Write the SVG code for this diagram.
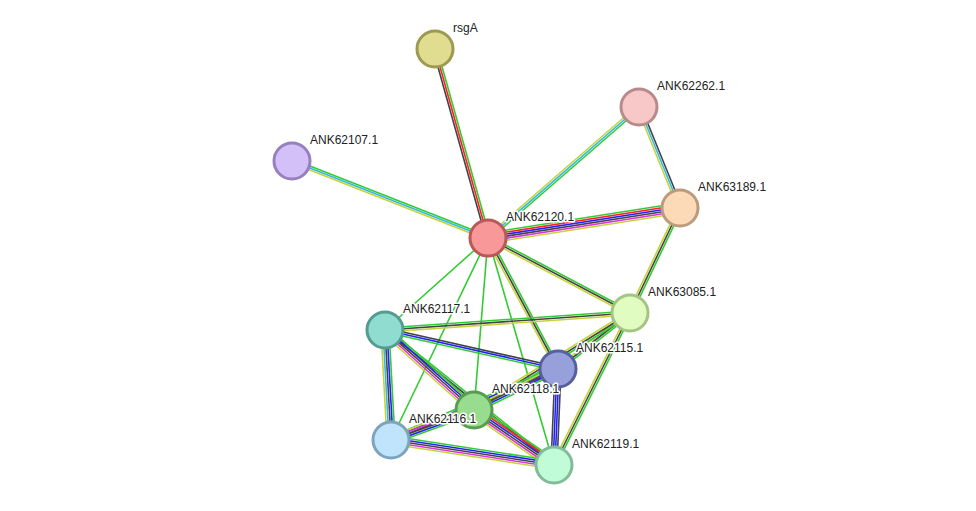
<svg xmlns="http://www.w3.org/2000/svg" width="976" height="511" viewBox="0 0 976 511">
<style>
line{stroke-width:1.6;fill:none}
.g{stroke:#33cc33}.r{stroke:#ff2222}.b{stroke:#2222ff}.k{stroke:#444}.m{stroke:#dd33dd}.y{stroke:#c4d43a}.c{stroke:#33b8e8}
circle{stroke-width:3}
text{font-family:"Liberation Sans",Arial,sans-serif;font-size:12px;fill:#222;stroke:#fff;stroke-width:3;paint-order:stroke;stroke-linejoin:round}
</style>
<rect width="976" height="511" fill="#fff"/>
<g id="connectors">
<g><line class="g" x1="435" y1="49" x2="488" y2="238" transform="translate(1.93,-0.54)"/><line class="r" x1="435" y1="49" x2="488" y2="238"/><line class="k" x1="435" y1="49" x2="488" y2="238" transform="translate(-1.93,0.54)"/></g>
<g><line class="g" x1="292" y1="161" x2="488" y2="238" transform="translate(0.73,-1.86)"/><line class="c" x1="292" y1="161" x2="488" y2="238"/><line class="y" x1="292" y1="161" x2="488" y2="238" transform="translate(-0.73,1.86)"/></g>
<g><line class="g" x1="639" y1="107" x2="488" y2="238" transform="translate(1.31,1.51)"/><line class="c" x1="639" y1="107" x2="488" y2="238"/><line class="y" x1="639" y1="107" x2="488" y2="238" transform="translate(-1.31,-1.51)"/></g>
<g><line class="k" x1="639" y1="107" x2="680" y2="208" transform="translate(1.85,-0.75)"/><line class="c" x1="639" y1="107" x2="680" y2="208"/><line class="y" x1="639" y1="107" x2="680" y2="208" transform="translate(-1.85,0.75)"/></g>
<g><line class="g" x1="488" y1="238" x2="680" y2="208" transform="translate(-0.78,-4.95)"/><line class="r" x1="488" y1="238" x2="680" y2="208" transform="translate(-0.47,-2.97)"/><line class="b" x1="488" y1="238" x2="680" y2="208" transform="translate(-0.16,-0.99)"/><line class="k" x1="488" y1="238" x2="680" y2="208" transform="translate(0.16,0.99)"/><line class="m" x1="488" y1="238" x2="680" y2="208" transform="translate(0.47,2.97)"/><line class="y" x1="488" y1="238" x2="680" y2="208" transform="translate(0.78,4.95)"/></g>
<g><line class="g" x1="488" y1="238" x2="630" y2="313" transform="translate(0.93,-1.77)"/><line class="k" x1="488" y1="238" x2="630" y2="313"/><line class="y" x1="488" y1="238" x2="630" y2="313" transform="translate(-0.93,1.77)"/></g>
<g><line class="g" x1="680" y1="208" x2="630" y2="313" transform="translate(1.81,0.86)"/><line class="k" x1="680" y1="208" x2="630" y2="313"/><line class="y" x1="680" y1="208" x2="630" y2="313" transform="translate(-1.81,-0.86)"/></g>
<g><line class="g" x1="488" y1="238" x2="385" y2="330"/><line class="g" x1="488" y1="238" x2="474" y2="410"/><line class="g" x1="488" y1="238" x2="391" y2="440"/><line class="g" x1="488" y1="238" x2="554" y2="465"/></g>
<g><line class="g" x1="488" y1="238" x2="558" y2="369" transform="translate(1.76,-0.94)"/><line class="k" x1="488" y1="238" x2="558" y2="369"/><line class="y" x1="488" y1="238" x2="558" y2="369" transform="translate(-1.76,0.94)"/></g>
<g><line class="g" x1="385" y1="330" x2="630" y2="313" transform="translate(-0.14,-2)"/><line class="k" x1="385" y1="330" x2="630" y2="313"/><line class="y" x1="385" y1="330" x2="630" y2="313" transform="translate(0.14,2)"/></g>
<g><line class="k" x1="385" y1="330" x2="558" y2="369" transform="translate(0.44,-1.95)"/><line class="b" x1="385" y1="330" x2="558" y2="369"/><line class="g" x1="385" y1="330" x2="558" y2="369" transform="translate(-0.44,1.95)"/></g>
<g><line class="g" x1="385" y1="330" x2="554" y2="465" transform="translate(1.25,-1.56)"/><line class="k" x1="385" y1="330" x2="554" y2="465"/><line class="y" x1="385" y1="330" x2="554" y2="465" transform="translate(-1.25,1.56)"/></g>
<g><line class="g" x1="385" y1="330" x2="474" y2="410" transform="translate(2.68,-2.98)"/><line class="b" x1="385" y1="330" x2="474" y2="410" transform="translate(1.34,-1.49)"/><line class="k" x1="385" y1="330" x2="474" y2="410"/><line class="m" x1="385" y1="330" x2="474" y2="410" transform="translate(-1.34,1.49)"/><line class="y" x1="385" y1="330" x2="474" y2="410" transform="translate(-2.68,2.98)"/></g>
<g><line class="g" x1="385" y1="330" x2="391" y2="440" transform="translate(4,-0.22)"/><line class="b" x1="385" y1="330" x2="391" y2="440" transform="translate(2,-0.11)"/><line class="k" x1="385" y1="330" x2="391" y2="440"/><line class="c" x1="385" y1="330" x2="391" y2="440" transform="translate(-2,0.11)"/><line class="y" x1="385" y1="330" x2="391" y2="440" transform="translate(-4,0.22)"/></g>
<g><line class="g" x1="630" y1="313" x2="558" y2="369" transform="translate(1.23,1.58)"/><line class="k" x1="630" y1="313" x2="558" y2="369"/><line class="y" x1="630" y1="313" x2="558" y2="369" transform="translate(-1.23,-1.58)"/></g>
<g><line class="g" x1="630" y1="313" x2="474" y2="410" transform="translate(1.06,1.7)"/><line class="k" x1="630" y1="313" x2="474" y2="410"/><line class="y" x1="630" y1="313" x2="474" y2="410" transform="translate(-1.06,-1.7)"/></g>
<g><line class="g" x1="630" y1="313" x2="554" y2="465" transform="translate(1.79,0.89)"/><line class="k" x1="630" y1="313" x2="554" y2="465"/><line class="y" x1="630" y1="313" x2="554" y2="465" transform="translate(-1.79,-0.89)"/></g>
<g><line class="g" x1="391" y1="440" x2="558" y2="369" transform="translate(-1.17,-2.76)"/><line class="b" x1="391" y1="440" x2="558" y2="369" transform="translate(-0.39,-0.92)"/><line class="k" x1="391" y1="440" x2="558" y2="369" transform="translate(0.39,0.92)"/><line class="y" x1="391" y1="440" x2="558" y2="369" transform="translate(1.17,2.76)"/></g>
<g><line class="g" x1="558" y1="369" x2="474" y2="410" transform="translate(1.32,2.7)"/><line class="b" x1="558" y1="369" x2="474" y2="410" transform="translate(0.44,0.9)"/><line class="k" x1="558" y1="369" x2="474" y2="410" transform="translate(-0.44,-0.9)"/><line class="y" x1="558" y1="369" x2="474" y2="410" transform="translate(-1.32,-2.7)"/></g>
<g><line class="k" x1="558" y1="369" x2="554" y2="465" transform="translate(3,0.12)"/><line class="b" x1="558" y1="369" x2="554" y2="465" transform="translate(1,0.04)"/><line class="b" x1="558" y1="369" x2="554" y2="465" transform="translate(-1,-0.04)"/><line class="k" x1="558" y1="369" x2="554" y2="465" transform="translate(-3,-0.12)"/></g>
<g><line class="g" x1="474" y1="410" x2="391" y2="440" transform="translate(1.36,3.76)"/><line class="b" x1="474" y1="410" x2="391" y2="440" transform="translate(0.68,1.88)"/><line class="k" x1="474" y1="410" x2="391" y2="440"/><line class="m" x1="474" y1="410" x2="391" y2="440" transform="translate(-0.68,-1.88)"/><line class="y" x1="474" y1="410" x2="391" y2="440" transform="translate(-1.36,-3.76)"/></g>
<g><line class="g" x1="474" y1="410" x2="554" y2="465" transform="translate(2.83,-4.13)"/><line class="r" x1="474" y1="410" x2="554" y2="465" transform="translate(1.7,-2.48)"/><line class="b" x1="474" y1="410" x2="554" y2="465" transform="translate(0.57,-0.83)"/><line class="k" x1="474" y1="410" x2="554" y2="465" transform="translate(-0.57,0.83)"/><line class="m" x1="474" y1="410" x2="554" y2="465" transform="translate(-1.7,2.48)"/><line class="y" x1="474" y1="410" x2="554" y2="465" transform="translate(-2.83,4.13)"/></g>
<g><line class="g" x1="391" y1="440" x2="554" y2="465" transform="translate(0.6,-3.96)"/><line class="b" x1="391" y1="440" x2="554" y2="465" transform="translate(0.3,-1.98)"/><line class="k" x1="391" y1="440" x2="554" y2="465"/><line class="m" x1="391" y1="440" x2="554" y2="465" transform="translate(-0.3,1.98)"/><line class="y" x1="391" y1="440" x2="554" y2="465" transform="translate(-0.6,3.96)"/></g>
</g>
<g id="rsgA"><circle cx="435" cy="49" r="18" fill="#e0dc90" stroke="#9c9a50"/><text x="453" y="32">rsgA</text></g>
<g id="ANK62262.1"><circle cx="639" cy="107" r="18" fill="#f8c8c8" stroke="#b88a8a"/><text x="657" y="90">ANK62262.1</text></g>
<g id="ANK62107.1"><circle cx="292" cy="161" r="18" fill="#d4c0f8" stroke="#9680c0"/><text x="310" y="144">ANK62107.1</text></g>
<g id="ANK63189.1"><circle cx="680" cy="208" r="18" fill="#fcdab8" stroke="#bc9a7c"/><text x="698" y="191">ANK63189.1</text></g>
<g id="ANK62120.1"><circle cx="488" cy="238" r="18" fill="#f89898" stroke="#b85858"/><text x="506" y="221">ANK62120.1</text></g>
<g id="ANK63085.1"><circle cx="630" cy="313" r="18" fill="#e0fcc0" stroke="#a4c484"/><text x="648" y="296">ANK63085.1</text></g>
<g id="ANK62117.1"><circle cx="385" cy="330" r="18" fill="#90dcd0" stroke="#549c90"/><text x="403" y="313">ANK62117.1</text></g>
<g id="ANK62115.1"><circle cx="558" cy="369" r="18" fill="#98a0dc" stroke="#5460a0"/><text x="576" y="352">ANK62115.1</text></g>
<g id="ANK62118.1"><circle cx="474" cy="410" r="18" fill="#98dc90" stroke="#589c50"/><text x="492" y="393">ANK62118.1</text></g>
<g id="ANK62116.1"><circle cx="391" cy="440" r="18" fill="#c0e4fc" stroke="#7ca4bc"/><text x="409" y="423">ANK62116.1</text></g>
<g id="ANK62119.1"><circle cx="554" cy="465" r="18" fill="#c0fcd8" stroke="#80bc98"/><text x="572" y="448">ANK62119.1</text></g>
</svg>
